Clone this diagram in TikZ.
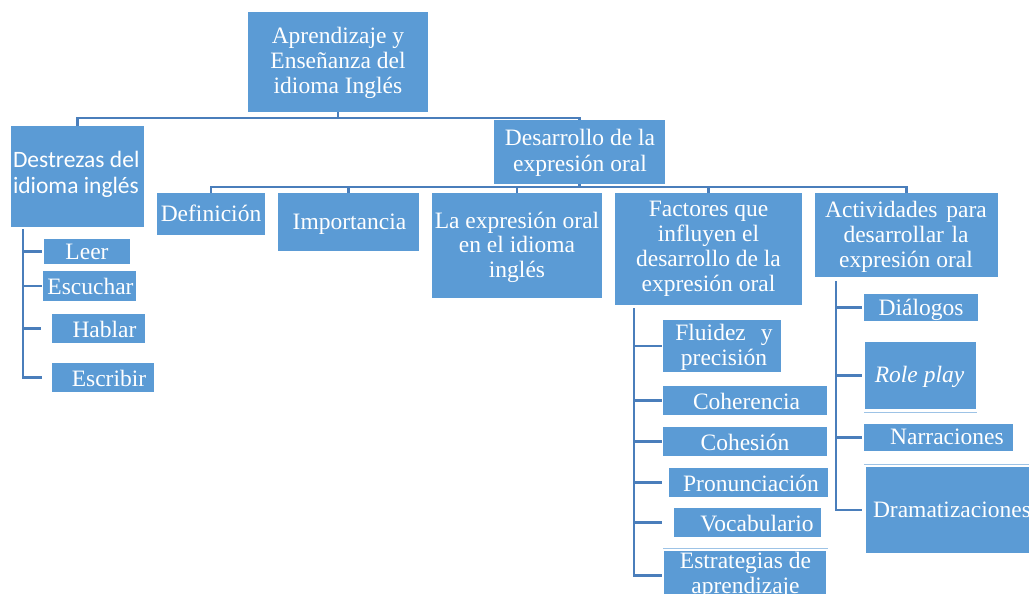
\documentclass[tikz,border=0pt]{standalone}
\usepackage{fontspec}
\setmainfont{Liberation Serif}
\newfontfamily\calibfont{Carlito}
\definecolor{boxblue}{HTML}{5B9BD5}
\definecolor{lineblue}{HTML}{4A7EBB}
\definecolor{sepblue}{HTML}{9DC3E6}
\begin{document}
\begin{tikzpicture}[x=1pt,y=-1pt,
  box/.style={fill=boxblue, draw=none, inner sep=0pt, outer sep=0pt},
  txt/.style={text=white, inner sep=0pt, outer sep=0pt, align=center, font=\fontsize{23.5}{25}\selectfont},
  conn/.style={draw=lineblue, line width=2.5pt},
  sepline/.style={draw=sepblue, line width=1pt}]
\useasboundingbox (0,0) rectangle (1029,594);
\clip (0,0) rectangle (1029,594);
% boxes
\node[box, minimum width=180pt, minimum height=100pt] (root) at (338,62) {};
\node[box, minimum width=133pt, minimum height=101pt] (dest) at (77.5,176.5) {};
\node[box, minimum width=171pt, minimum height=64pt] (desa) at (579.5,152) {};
\node[box, minimum width=108pt, minimum height=42pt] (defi) at (211,214) {};
\node[box, minimum width=141pt, minimum height=58pt] (imp) at (348.5,222) {};
\node[box, minimum width=170pt, minimum height=105pt] (lae) at (517,245.5) {};
\node[box, minimum width=187pt, minimum height=112pt] (fac) at (708.5,249) {};
\node[box, minimum width=183pt, minimum height=84pt] (act) at (906.5,235) {};
\node[box, minimum width=86pt, minimum height=25pt] (leer) at (87,251.5) {};
\node[box, minimum width=93pt, minimum height=30pt] (escu) at (89.5,286) {};
\node[box, minimum width=93pt, minimum height=29pt] (habl) at (98.5,328.5) {};
\node[box, minimum width=102pt, minimum height=29pt] (escr) at (103,377.5) {};
\node[box, minimum width=118pt, minimum height=52pt] (flu) at (722,346) {};
\node[box, minimum width=164pt, minimum height=29pt] (coh) at (745,400.5) {};
\node[box, minimum width=164pt, minimum height=29pt] (cohs) at (745,441.5) {};
\node[box, minimum width=159pt, minimum height=29pt] (pron) at (748.5,482.5) {};
\node[box, minimum width=147pt, minimum height=29pt] (voc) at (747.5,522.5) {};
\node[box, minimum width=162pt, minimum height=49pt] (est) at (745,575.5) {};
\node[box, minimum width=114pt, minimum height=27pt] (dia) at (921,307.5) {};
\node[box, minimum width=111pt, minimum height=67pt] (role) at (920.5,375.5) {};
\node[box, minimum width=149pt, minimum height=27pt] (narr) at (938.5,437.5) {};
\node[box, minimum width=174pt, minimum height=86pt] (dram) at (953,510) {};
% connectors level 1
\draw[conn] (root.south) -- ++(0,6) coordinate (b1);
\draw[conn] (dest.north) |- (b1) -| (desa.north);
% level 2
\draw[conn] (desa.south) -- ++(0,3) coordinate (b2);
\draw[conn] (defi.north) |- (b2) -| (act.north);
\foreach \n in {imp,lae,fac} \draw[conn] (\n.north) -- (\n.north |- b2);
% Destrezas children
\coordinate (dv) at (23,229);
\draw[conn] (dv) |- ([xshift=-10pt]escr.west);
\draw[conn] (dv |- leer.west) -- ([xshift=-2pt]leer.west);
\draw[conn] (dv |- escu.west) -- ([xshift=-1pt]escu.west);
\draw[conn] (dv |- habl.west) -- ([xshift=-11pt]habl.west);
% Factores children
\coordinate (fv) at (634,308);
\draw[conn] (fv) |- ([xshift=-2pt]est.west);
\draw[conn] (fv |- flu.west) -- ([xshift=-1pt]flu.west);
\draw[conn] (fv |- coh.west) -- ([xshift=-1pt]coh.west);
\draw[conn] (fv |- cohs.west) -- ([xshift=-1pt]cohs.west);
\draw[conn] (fv |- pron.west) -- ([xshift=-7pt]pron.west);
\draw[conn] (fv |- voc.west) -- ([xshift=-12pt]voc.west);
% Actividades children
\coordinate (av) at (836,281);
\draw[conn] (av) |- ([xshift=-4pt]dram.west);
\draw[conn] (av |- dia.west) -- ([xshift=-2pt]dia.west);
\draw[conn] (av |- role.west) -- ([xshift=-3pt]role.west);
\draw[conn] (av |- narr.west) -- ([xshift=-2pt]narr.west);
% thin separator lines
\draw[sepline] (864,412) -- (977,412);
\draw[sepline] (864,464) -- (1029,464);
\draw[sepline] (663,548) -- (828,548);
% texts
\node[txt, anchor=north] (troot) at (338,27) {Aprendizaje y\\Enseñanza del\\idioma Inglés};
\node[txt, align=left, anchor=north west, font=\calibfont\fontsize{23.5}{26}\selectfont] (tdest) at (13,151.5) {Destrezas del\\idioma inglés};
\node[txt, anchor=north, font=\fontsize{23.5}{26}\selectfont] (tdesa) at (580,129) {Desarrollo de la\\expresión oral};
\node[txt, anchor=base] (tdefi) at (211,221) {Definición};
\node[txt, anchor=base] (timp) at (349.5,229) {Importancia};
\node[txt, anchor=north, font=\fontsize{23.5}{24.5}\selectfont] (tlae) at (517,212) {La expresión oral\\en el idioma\\inglés};
\node[txt, anchor=north] (tfac) at (708.5,201) {Factores que\\influyen el\\desarrollo de la\\expresión oral};
\node[txt, anchor=north] (tact) at (906,201) {Actividades\hspace{9pt}para\\desarrollar\hspace{7.5pt}la\\expresión oral};
\node[txt, anchor=base] (tleer) at (87,259) {Leer};
\node[txt, anchor=base] (tescu) at (90.5,294) {Escuchar};
\node[txt, anchor=base] (thabl) at (104.5,337) {Hablar};
\node[txt, anchor=base] (tescr) at (109,386) {Escribir};
\node[txt, anchor=north] (tflu) at (724,324) {Fluidez\hspace{15pt}y\\precisión};
\node[txt, anchor=base] (tcoh) at (746.5,409) {Coherencia};
\node[txt, anchor=base] (tcohs) at (745,450) {Cohesión};
\node[txt, anchor=base] (tpron) at (751,491) {Pronunciación};
\node[txt, anchor=base] (tvoc) at (757,531) {Vocabulario};
\node[txt, anchor=north] (test) at (745.5,552) {Estrategias de\\aprendizaje};
\node[txt, anchor=base] (tdia) at (921,315) {Diálogos};
\node[txt, anchor=base] (trole) at (919.5,382) {\itshape Role play};
\node[txt, anchor=base] (tnarr) at (947,444) {Narraciones};
\node[txt, anchor=base west] (tdram) at (873,517) {Dramatizaciones};
\end{tikzpicture}
\end{document}
